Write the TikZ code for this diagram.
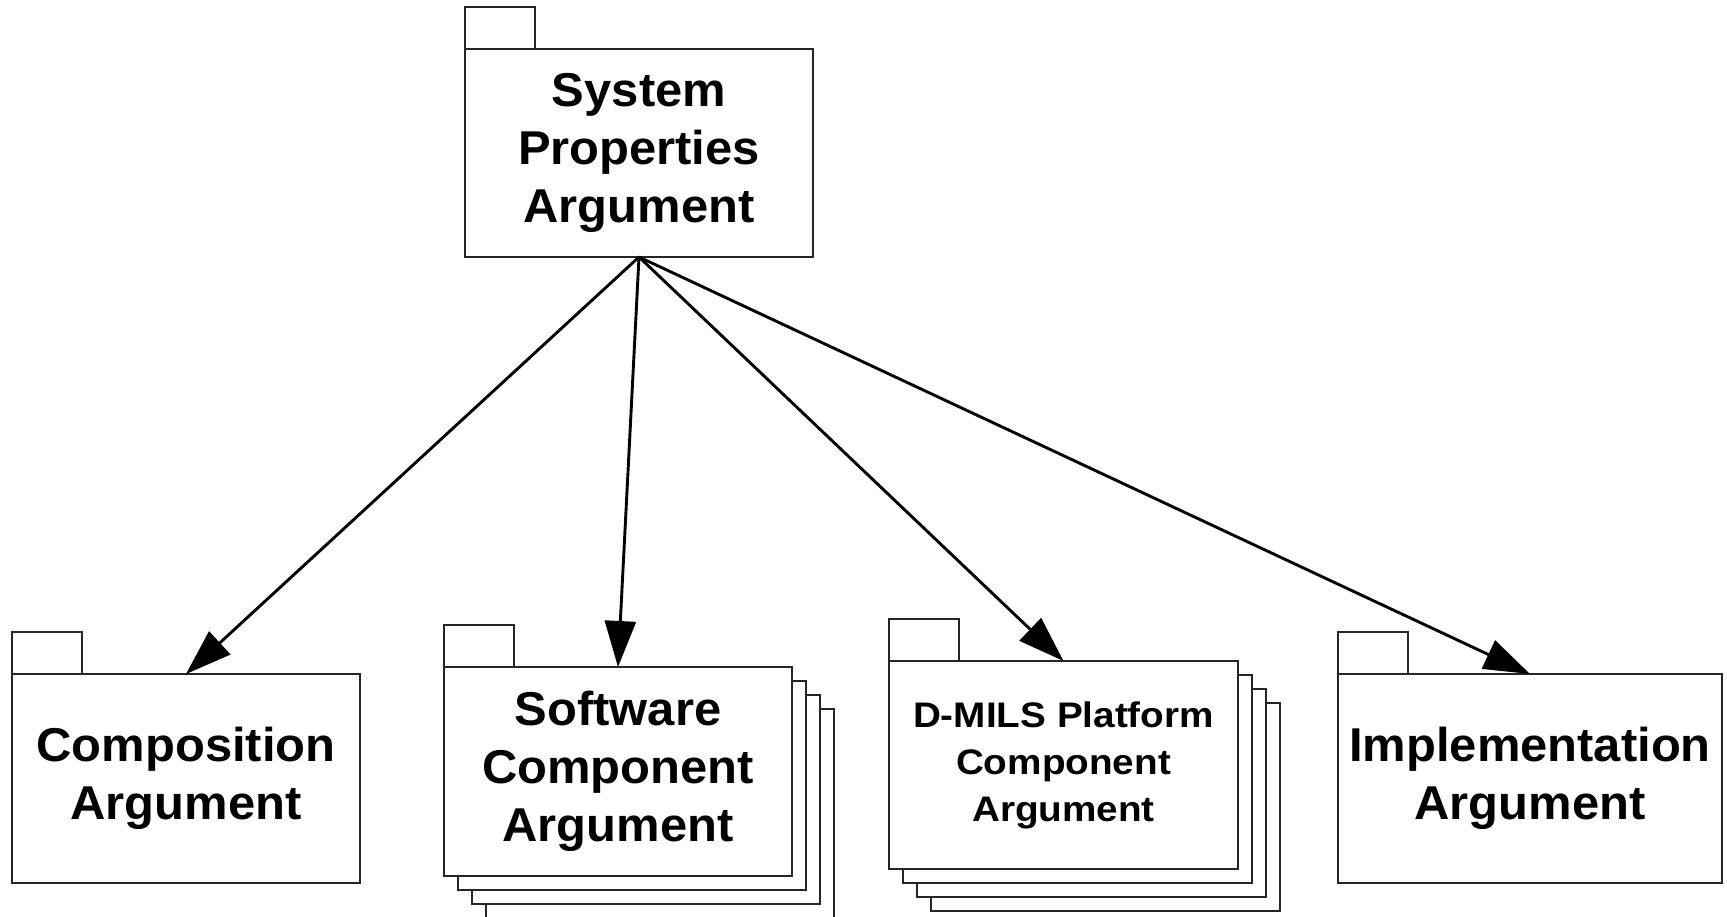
\documentclass[tikz,border=0pt]{standalone}
\usepackage{fontspec}
\setmainfont{Liberation Sans}
\usetikzlibrary{arrows.meta}
\begin{document}
\begin{tikzpicture}[x=1pt,y=-1pt,
  box/.style={draw=black!85,line width=1.3pt,fill=white,inner sep=0pt,outer sep=0pt,align=center},
  tabbox/.style={draw=black!85,line width=1.3pt,fill=white,inner sep=0pt,outer sep=0pt,minimum width=70pt,minimum height=42pt,anchor=south west},
  big/.style={font=\fontsize{47.5}{58}\selectfont\bfseries\addfontfeatures{FakeStretch=1.03}},
  small/.style={font=\fontsize{35.5}{47}\selectfont\bfseries\addfontfeatures{FakeStretch=1.09}},
  link/.style={line width=2.9pt,-{Triangle[length=46pt,width=31pt]}}]
\useasboundingbox (0,0) rectangle (1727,917);

% top package
\node[box,big,minimum width=348pt,minimum height=208pt] (top) at (639,153) {System\\Properties\\Argument};
\node[tabbox] (toptab) at (top.north west) {};

% composition
\node[box,big,minimum width=348pt,minimum height=209pt] (comp) at (186,778.5) {Composition\\Argument};
\node[tabbox] (comptab) at (comp.north west) {};

% software component stack
\node[box,minimum width=348pt,minimum height=209pt] (sw3) at (660,813.5) {};
\node[box,minimum width=348pt,minimum height=209pt] (sw2) at (646,799.5) {};
\node[box,minimum width=348pt,minimum height=209pt] (sw1) at (632,785.5) {};
\node[box,big,minimum width=348pt,minimum height=209pt] (sw) at (618,771.5) {Software\\Component\\Argument};
\node[tabbox] (swtab) at (sw.north west) {};

% D-MILS platform stack
\node[box,minimum width=349pt,minimum height=208pt] (dm3) at (1105.5,807) {};
\node[box,minimum width=349pt,minimum height=208pt] (dm2) at (1091.5,793) {};
\node[box,minimum width=349pt,minimum height=208pt] (dm1) at (1077.5,779) {};
\node[box,small,minimum width=349pt,minimum height=208pt] (dm) at (1063.5,765) {D-MILS Platform\\Component\\Argument};
\node[tabbox] (dmtab) at (dm.north west) {};

% implementation
\node[box,big,minimum width=384pt,minimum height=209pt] (impl) at (1530,778.5) {Implementation\\Argument};
\node[tabbox] (impltab) at (impl.north west) {};

% connectors
\draw[link] (top.south) -- (comp.north);
\draw[link] (top.south) -- (sw.north);
\draw[link] (top.south) -- (dm.north);
\draw[link] (top.south) -- (impl.north);
\end{tikzpicture}
\end{document}
